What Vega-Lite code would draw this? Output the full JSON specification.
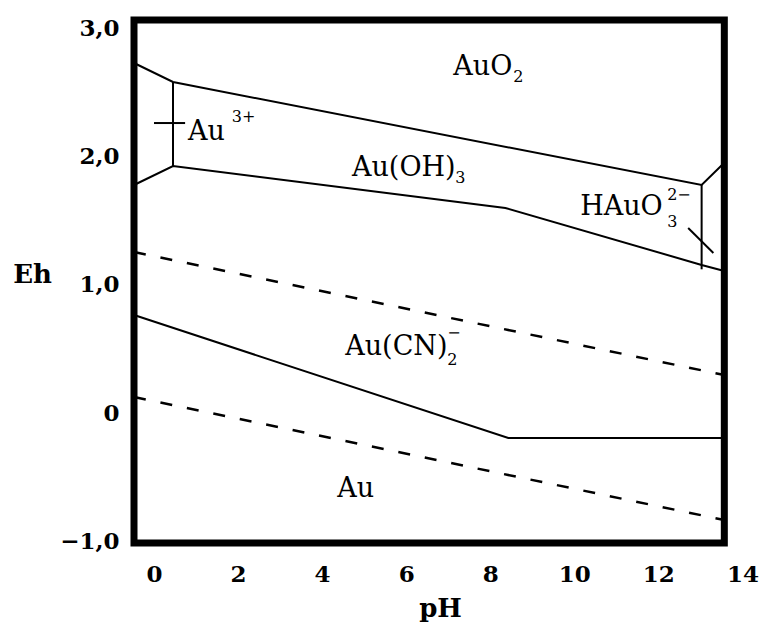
{
  "$schema": "https://vega.github.io/schema/vega-lite/v6.json",
  "width": 621,
  "height": 523,
  "autosize": {"type": "none"},
  "padding": {"left": 134, "top": 20, "right": 9, "bottom": 81},
  "background": "white",
  "config": {"view": {"stroke": null}, "font": "DejaVu Serif"},
  "encoding": {
    "x": {
      "field": "pH", "type": "quantitative",
      "scale": {"domain": [-0.476, 14.3], "nice": false, "zero": false},
      "axis": {
        "values": [0, 2, 4, 6, 8, 10, 12, 14],
        "grid": false, "domain": false, "ticks": false,
        "labelFont": "DejaVu Serif", "labelFontWeight": "bold", "labelFontSize": 23, "labelColor": "black",
        "labelPadding": 20, "labelFlush": false,
        "title": "pH", "titleFont": "DejaVu Serif", "titleFontWeight": "bold", "titleFontSize": 26, "titleColor": "black",
        "titleX": 306, "titleY": 65, "titleAlign": "center", "titleBaseline": "middle"
      }
    },
    "y": {
      "field": "Eh", "type": "quantitative",
      "scale": {"domain": [-1.013, 3.063], "nice": false, "zero": false},
      "axis": {
        "values": [-1, 0, 1, 2, 3],
        "labelExpr": "datum.value == 0 ? '0' : replace(format(datum.value, '.1f'), '.', ',')",
        "grid": false, "domain": false, "ticks": false,
        "labelFont": "DejaVu Serif", "labelFontWeight": "bold", "labelFontSize": 23, "labelColor": "black",
        "labelPadding": 15, "labelFlush": false,
        "title": "Eh", "titleFont": "DejaVu Serif", "titleFontWeight": "bold", "titleFontSize": 26, "titleColor": "black",
        "titleAngle": 0, "titleX": -102, "titleY": 254, "titleAlign": "center", "titleBaseline": "middle"
      }
    }
  },
  "layer": [
    {
      "data": {"values": [
        {"seg": "A", "i": 1, "pH": -0.476, "Eh": 2.728},
        {"seg": "A", "i": 2, "pH": 0.452, "Eh": 2.58},
        {"seg": "A", "i": 3, "pH": 13.03, "Eh": 1.777},
        {"seg": "A", "i": 4, "pH": 13.57, "Eh": 1.95},
        {"seg": "B", "i": 1, "pH": 0.452, "Eh": 2.58},
        {"seg": "B", "i": 2, "pH": 0.452, "Eh": 1.925},
        {"seg": "C", "i": 1, "pH": -0.476, "Eh": 1.777},
        {"seg": "C", "i": 2, "pH": 0.452, "Eh": 1.925},
        {"seg": "C", "i": 3, "pH": 8.36, "Eh": 1.598},
        {"seg": "C", "i": 4, "pH": 13.03, "Eh": 1.154},
        {"seg": "C", "i": 5, "pH": 13.57, "Eh": 1.107},
        {"seg": "D", "i": 1, "pH": 13.03, "Eh": 1.777},
        {"seg": "D", "i": 2, "pH": 13.03, "Eh": 1.12},
        {"seg": "E", "i": 1, "pH": -0.476, "Eh": 0.764},
        {"seg": "E", "i": 2, "pH": 8.43, "Eh": -0.195},
        {"seg": "E", "i": 3, "pH": 13.57, "Eh": -0.195},
        {"seg": "F", "i": 1, "pH": 0.0, "Eh": 2.26},
        {"seg": "F", "i": 2, "pH": 0.74, "Eh": 2.26},
        {"seg": "G", "i": 1, "pH": 12.71, "Eh": 1.442},
        {"seg": "G", "i": 2, "pH": 13.31, "Eh": 1.247}
      ]},
      "mark": {"type": "line", "color": "black", "strokeWidth": 2},
      "encoding": {
        "detail": {"field": "seg"},
        "order": {"field": "i", "type": "quantitative"}
      }
    },
    {
      "data": {"values": [
        {"seg": "H", "i": 1, "pH": -0.476, "Eh": 1.255},
        {"seg": "H", "i": 2, "pH": 13.57, "Eh": 0.296},
        {"seg": "I", "i": 1, "pH": -0.476, "Eh": 0.125},
        {"seg": "I", "i": 2, "pH": 13.57, "Eh": -0.834}
      ]},
      "mark": {"type": "line", "color": "black", "strokeWidth": 2.5, "strokeDash": [12, 15]},
      "encoding": {
        "detail": {"field": "seg"},
        "order": {"field": "i", "type": "quantitative"}
      }
    },
    {
      "data": {"values": [
        {"label": "AuO", "pH": 7.12, "Eh": 2.634},
        {"label": "Au", "pH": 0.81, "Eh": 2.128},
        {"label": "Au(OH)", "pH": 4.71, "Eh": 1.847},
        {"label": "HAuO", "pH": 10.14, "Eh": 1.543},
        {"label": "Au(CN)", "pH": 4.55, "Eh": 0.452},
        {"label": "Au", "pH": 4.36, "Eh": -0.655}
      ]},
      "mark": {"type": "text", "font": "DejaVu Serif", "fontSize": 27, "align": "left", "baseline": "alphabetic", "color": "black"},
      "encoding": {"text": {"field": "label"}}
    },
    {
      "data": {"values": [
        {"label": "2", "pH": 8.55, "Eh": 2.58},
        {"label": "3+", "pH": 1.85, "Eh": 2.268},
        {"label": "3", "pH": 7.17, "Eh": 1.793},
        {"label": "2−", "pH": 12.21, "Eh": 1.66},
        {"label": "3", "pH": 12.21, "Eh": 1.45},
        {"label": "2", "pH": 6.98, "Eh": 0.374},
        {"label": "−", "pH": 6.98, "Eh": 0.585}
      ]},
      "mark": {"type": "text", "font": "DejaVu Serif", "fontSize": 16, "align": "left", "baseline": "alphabetic", "color": "black"},
      "encoding": {"text": {"field": "label"}}
    },
    {
      "data": {"values": [
        {"pH": -0.476, "pH2": 13.57, "Eh": -1.013, "Eh2": 3.063}
      ]},
      "mark": {"type": "rect", "fill": null, "fillOpacity": 0, "stroke": "black", "strokeWidth": 7},
      "encoding": {
        "x2": {"field": "pH2"},
        "y2": {"field": "Eh2"}
      }
    }
  ]
}
